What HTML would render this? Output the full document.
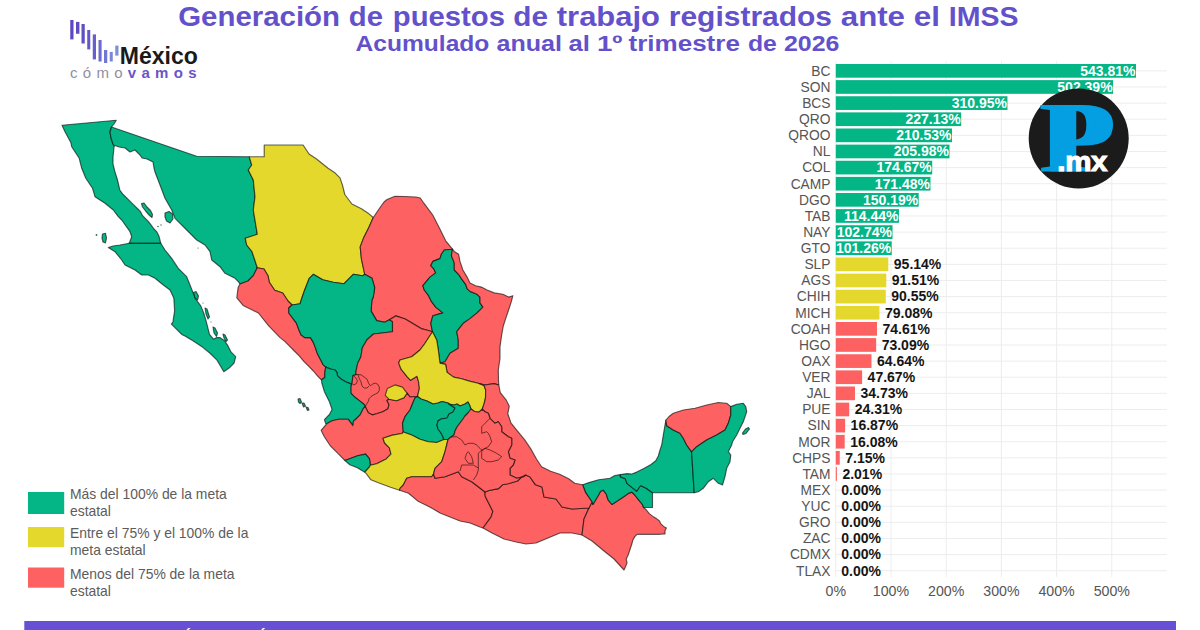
<!DOCTYPE html>
<html><head><meta charset="utf-8">
<style>
html,body{margin:0;padding:0;background:#fff;}
body{width:1200px;height:630px;overflow:hidden;position:relative;font-family:"Liberation Sans",Arial,sans-serif;}
svg{position:absolute;left:0;top:0;}
.lab{font:13.8px "Liberation Sans",sans-serif;fill:#555;}
.vin{font:bold 14px "Liberation Sans",sans-serif;fill:#fff;}
.vout{font:bold 14px "Liberation Sans",sans-serif;fill:#151515;}
.ax{font:14.2px "Liberation Sans",sans-serif;fill:#555;}
.leg{font:13.9px "Liberation Sans",sans-serif;fill:#5c5c5c;}
</style></head>
<body>
<svg width="1200" height="630" viewBox="0 0 1200 630">
<rect width="1200" height="630" fill="#fff"/>
<!-- title -->
<g style="font:bold 27px 'Liberation Sans',sans-serif;fill:#6351cb"><text x="178.2" y="26.4" textLength="161.8" lengthAdjust="spacingAndGlyphs">Generación</text><text x="348.8" y="26.4" textLength="34.2" lengthAdjust="spacingAndGlyphs">de</text><text x="392.8" y="26.4" textLength="112.2" lengthAdjust="spacingAndGlyphs">puestos</text><text x="513.3" y="26.4" textLength="34.7" lengthAdjust="spacingAndGlyphs">de</text><text x="556.8" y="26.4" textLength="103.2" lengthAdjust="spacingAndGlyphs">trabajo</text><text x="668.8" y="26.4" textLength="163.2" lengthAdjust="spacingAndGlyphs">registrados</text><text x="840.8" y="26.4" textLength="64.2" lengthAdjust="spacingAndGlyphs">ante</text><text x="913.8" y="26.4" textLength="26.2" lengthAdjust="spacingAndGlyphs">el</text><text x="948.8" y="26.4" textLength="69.7" lengthAdjust="spacingAndGlyphs">IMSS</text></g>
<g style="font:bold 22.3px 'Liberation Sans',sans-serif;fill:#6351cb"><text x="355.5" y="50.5" textLength="133.9" lengthAdjust="spacingAndGlyphs">Acumulado</text><text x="496.5" y="50.5" textLength="65.4" lengthAdjust="spacingAndGlyphs">anual</text><text x="568.5" y="50.5" textLength="21.4" lengthAdjust="spacingAndGlyphs">al</text><text x="597.0" y="50.5" textLength="25.4" lengthAdjust="spacingAndGlyphs">1º</text><text x="628.5" y="50.5" textLength="111.4" lengthAdjust="spacingAndGlyphs">trimestre</text><text x="748.0" y="50.5" textLength="28.9" lengthAdjust="spacingAndGlyphs">de</text><text x="784.0" y="50.5" textLength="55.4" lengthAdjust="spacingAndGlyphs">2026</text></g>
<!-- logo -->
<rect x="70.25" y="20" width="3.25" height="19.40" fill="#5b48c2"/>
<rect x="76" y="21.9" width="3.40" height="11.85" fill="#5d4cc4"/>
<rect x="81.5" y="24" width="3.25" height="19.50" fill="#5f50c6"/>
<rect x="87.25" y="30" width="3.00" height="19.40" fill="#6256c8"/>
<rect x="92.75" y="34.4" width="3.25" height="25.00" fill="#675fcc"/>
<rect x="98.5" y="40" width="3.10" height="21.50" fill="#6b6ad0"/>
<rect x="104" y="50" width="3.25" height="13.00" fill="#7277d4"/>
<rect x="109.75" y="51.9" width="3.00" height="9.60" fill="#7a86d8"/>
<rect x="115.25" y="45.6" width="3.25" height="10.00" fill="#7f8fda"/>
<text x="119.8" y="63.75" transform="translate(119.8 0) scale(0.945 1) translate(-119.8 0)" style="font:bold 24.4px 'Liberation Sans',sans-serif;fill:#1a1a1a">México</text>
<text x="70" y="77.6" textLength="126.5" lengthAdjust="spacing" style="font:15px 'Liberation Sans',sans-serif"><tspan fill="#9090a0">cómo</tspan><tspan fill="#6a55c8" font-weight="bold">vamos</tspan></text>
<!-- chart -->
<rect x="835.30" y="61" width="1" height="516" fill="#ededed"/>
<rect x="890.50" y="61" width="1" height="516" fill="#ededed"/>
<rect x="945.70" y="61" width="1" height="516" fill="#ededed"/>
<rect x="1000.90" y="61" width="1" height="516" fill="#ededed"/>
<rect x="1056.10" y="61" width="1" height="516" fill="#ededed"/>
<rect x="1111.30" y="61" width="1" height="516" fill="#ededed"/>
<rect x="835.80" y="70.35" width="331" height="1" fill="#ededed"/>
<rect x="835.80" y="86.47" width="331" height="1" fill="#ededed"/>
<rect x="835.80" y="102.60" width="331" height="1" fill="#ededed"/>
<rect x="835.80" y="118.72" width="331" height="1" fill="#ededed"/>
<rect x="835.80" y="134.85" width="331" height="1" fill="#ededed"/>
<rect x="835.80" y="150.97" width="331" height="1" fill="#ededed"/>
<rect x="835.80" y="167.10" width="331" height="1" fill="#ededed"/>
<rect x="835.80" y="183.22" width="331" height="1" fill="#ededed"/>
<rect x="835.80" y="199.35" width="331" height="1" fill="#ededed"/>
<rect x="835.80" y="215.47" width="331" height="1" fill="#ededed"/>
<rect x="835.80" y="231.60" width="331" height="1" fill="#ededed"/>
<rect x="835.80" y="247.72" width="331" height="1" fill="#ededed"/>
<rect x="835.80" y="263.85" width="331" height="1" fill="#ededed"/>
<rect x="835.80" y="279.98" width="331" height="1" fill="#ededed"/>
<rect x="835.80" y="296.10" width="331" height="1" fill="#ededed"/>
<rect x="835.80" y="312.23" width="331" height="1" fill="#ededed"/>
<rect x="835.80" y="328.35" width="331" height="1" fill="#ededed"/>
<rect x="835.80" y="344.48" width="331" height="1" fill="#ededed"/>
<rect x="835.80" y="360.60" width="331" height="1" fill="#ededed"/>
<rect x="835.80" y="376.73" width="331" height="1" fill="#ededed"/>
<rect x="835.80" y="392.85" width="331" height="1" fill="#ededed"/>
<rect x="835.80" y="408.98" width="331" height="1" fill="#ededed"/>
<rect x="835.80" y="425.10" width="331" height="1" fill="#ededed"/>
<rect x="835.80" y="441.23" width="331" height="1" fill="#ededed"/>
<rect x="835.80" y="457.35" width="331" height="1" fill="#ededed"/>
<rect x="835.80" y="473.48" width="331" height="1" fill="#ededed"/>
<rect x="835.80" y="489.60" width="331" height="1" fill="#ededed"/>
<rect x="835.80" y="505.73" width="331" height="1" fill="#ededed"/>
<rect x="835.80" y="521.85" width="331" height="1" fill="#ededed"/>
<rect x="835.80" y="537.98" width="331" height="1" fill="#ededed"/>
<rect x="835.80" y="554.10" width="331" height="1" fill="#ededed"/>
<rect x="835.80" y="570.23" width="331" height="1" fill="#ededed"/>
<rect x="835.80" y="64.00" width="300.18" height="13.7" fill="#04b586"/>
<text x="830.5" y="75.70" text-anchor="end" class="lab">BC</text>
<text x="1135.48" y="75.70" text-anchor="end" class="vin">543.81%</text>
<rect x="835.80" y="80.12" width="277.32" height="13.7" fill="#04b586"/>
<text x="830.5" y="91.82" text-anchor="end" class="lab">SON</text>
<text x="1112.62" y="91.82" text-anchor="end" class="vin">502.39%</text>
<rect x="835.80" y="96.25" width="171.64" height="13.7" fill="#04b586"/>
<text x="830.5" y="107.95" text-anchor="end" class="lab">BCS</text>
<text x="1006.94" y="107.95" text-anchor="end" class="vin">310.95%</text>
<rect x="835.80" y="112.38" width="125.38" height="13.7" fill="#04b586"/>
<text x="830.5" y="124.07" text-anchor="end" class="lab">QRO</text>
<text x="960.68" y="124.07" text-anchor="end" class="vin">227.13%</text>
<rect x="835.80" y="128.50" width="116.21" height="13.7" fill="#04b586"/>
<text x="830.5" y="140.20" text-anchor="end" class="lab">QROO</text>
<text x="951.51" y="140.20" text-anchor="end" class="vin">210.53%</text>
<rect x="835.80" y="144.62" width="113.70" height="13.7" fill="#04b586"/>
<text x="830.5" y="156.32" text-anchor="end" class="lab">NL</text>
<text x="949.00" y="156.32" text-anchor="end" class="vin">205.98%</text>
<rect x="835.80" y="160.75" width="96.42" height="13.7" fill="#04b586"/>
<text x="830.5" y="172.45" text-anchor="end" class="lab">COL</text>
<text x="931.72" y="172.45" text-anchor="end" class="vin">174.67%</text>
<rect x="835.80" y="176.88" width="94.66" height="13.7" fill="#04b586"/>
<text x="830.5" y="188.57" text-anchor="end" class="lab">CAMP</text>
<text x="929.96" y="188.57" text-anchor="end" class="vin">171.48%</text>
<rect x="835.80" y="193.00" width="82.90" height="13.7" fill="#04b586"/>
<text x="830.5" y="204.70" text-anchor="end" class="lab">DGO</text>
<text x="918.20" y="204.70" text-anchor="end" class="vin">150.19%</text>
<rect x="835.80" y="209.12" width="63.17" height="13.7" fill="#04b586"/>
<text x="830.5" y="220.82" text-anchor="end" class="lab">TAB</text>
<text x="898.47" y="220.82" text-anchor="end" class="vin">114.44%</text>
<rect x="835.80" y="225.25" width="56.71" height="13.7" fill="#04b586"/>
<text x="830.5" y="236.95" text-anchor="end" class="lab">NAY</text>
<text x="892.01" y="236.95" text-anchor="end" class="vin">102.74%</text>
<rect x="835.80" y="241.38" width="55.90" height="13.7" fill="#04b586"/>
<text x="830.5" y="253.07" text-anchor="end" class="lab">GTO</text>
<text x="891.20" y="253.07" text-anchor="end" class="vin">101.26%</text>
<rect x="835.80" y="257.50" width="52.52" height="13.7" fill="#e4d82c"/>
<text x="830.5" y="269.20" text-anchor="end" class="lab">SLP</text>
<text x="893.82" y="269.20" class="vout">95.14%</text>
<rect x="835.80" y="273.62" width="50.51" height="13.7" fill="#e4d82c"/>
<text x="830.5" y="285.33" text-anchor="end" class="lab">AGS</text>
<text x="891.81" y="285.33" class="vout">91.51%</text>
<rect x="835.80" y="289.75" width="49.98" height="13.7" fill="#e4d82c"/>
<text x="830.5" y="301.45" text-anchor="end" class="lab">CHIH</text>
<text x="891.28" y="301.45" class="vout">90.55%</text>
<rect x="835.80" y="305.88" width="43.65" height="13.7" fill="#e4d82c"/>
<text x="830.5" y="317.58" text-anchor="end" class="lab">MICH</text>
<text x="884.95" y="317.58" class="vout">79.08%</text>
<rect x="835.80" y="322.00" width="41.18" height="13.7" fill="#fd6161"/>
<text x="830.5" y="333.70" text-anchor="end" class="lab">COAH</text>
<text x="882.48" y="333.70" class="vout">74.61%</text>
<rect x="835.80" y="338.12" width="40.35" height="13.7" fill="#fd6161"/>
<text x="830.5" y="349.83" text-anchor="end" class="lab">HGO</text>
<text x="881.65" y="349.83" class="vout">73.09%</text>
<rect x="835.80" y="354.25" width="35.68" height="13.7" fill="#fd6161"/>
<text x="830.5" y="365.95" text-anchor="end" class="lab">OAX</text>
<text x="876.98" y="365.95" class="vout">64.64%</text>
<rect x="835.80" y="370.38" width="26.31" height="13.7" fill="#fd6161"/>
<text x="830.5" y="382.08" text-anchor="end" class="lab">VER</text>
<text x="867.61" y="382.08" class="vout">47.67%</text>
<rect x="835.80" y="386.50" width="19.17" height="13.7" fill="#fd6161"/>
<text x="830.5" y="398.20" text-anchor="end" class="lab">JAL</text>
<text x="860.47" y="398.20" class="vout">34.73%</text>
<rect x="835.80" y="402.62" width="13.42" height="13.7" fill="#fd6161"/>
<text x="830.5" y="414.33" text-anchor="end" class="lab">PUE</text>
<text x="854.72" y="414.33" class="vout">24.31%</text>
<rect x="835.80" y="418.75" width="9.31" height="13.7" fill="#fd6161"/>
<text x="830.5" y="430.45" text-anchor="end" class="lab">SIN</text>
<text x="850.61" y="430.45" class="vout">16.87%</text>
<rect x="835.80" y="434.88" width="8.88" height="13.7" fill="#fd6161"/>
<text x="830.5" y="446.58" text-anchor="end" class="lab">MOR</text>
<text x="850.18" y="446.58" class="vout">16.08%</text>
<rect x="835.80" y="451.00" width="3.95" height="13.7" fill="#fd6161"/>
<text x="830.5" y="462.70" text-anchor="end" class="lab">CHPS</text>
<text x="845.25" y="462.70" class="vout">7.15%</text>
<rect x="835.80" y="467.12" width="1.11" height="13.7" fill="#fd6161"/>
<text x="830.5" y="478.83" text-anchor="end" class="lab">TAM</text>
<text x="842.41" y="478.83" class="vout">2.01%</text>
<text x="830.5" y="494.95" text-anchor="end" class="lab">MEX</text>
<text x="841.30" y="494.95" class="vout">0.00%</text>
<text x="830.5" y="511.08" text-anchor="end" class="lab">YUC</text>
<text x="841.30" y="511.08" class="vout">0.00%</text>
<text x="830.5" y="527.20" text-anchor="end" class="lab">GRO</text>
<text x="841.30" y="527.20" class="vout">0.00%</text>
<text x="830.5" y="543.33" text-anchor="end" class="lab">ZAC</text>
<text x="841.30" y="543.33" class="vout">0.00%</text>
<text x="830.5" y="559.45" text-anchor="end" class="lab">CDMX</text>
<text x="841.30" y="559.45" class="vout">0.00%</text>
<text x="830.5" y="575.58" text-anchor="end" class="lab">TLAX</text>
<text x="841.30" y="575.58" class="vout">0.00%</text>
<text x="835.80" y="596.3" text-anchor="middle" class="ax">0%</text>
<text x="891.00" y="596.3" text-anchor="middle" class="ax">100%</text>
<text x="946.20" y="596.3" text-anchor="middle" class="ax">200%</text>
<text x="1001.40" y="596.3" text-anchor="middle" class="ax">300%</text>
<text x="1056.60" y="596.3" text-anchor="middle" class="ax">400%</text>
<text x="1111.80" y="596.3" text-anchor="middle" class="ax">500%</text>
<!-- P.mx logo -->
<circle cx="1078.7" cy="138.5" r="50" fill="#1b1b1b"/>
<g transform="translate(1038.6 172.3) scale(1.116 1)" style="font:bold 100.8px 'Liberation Serif',serif;fill:#049ee2"><text x="0" y="0">P</text><text x="7.93" y="0" aria-hidden="true">P</text></g>
<text x="1057.3" y="171.3" transform="translate(1057.3 0) scale(1.075 1) translate(-1057.3 0)" style="font:bold 27.5px 'Liberation Sans',sans-serif;fill:#fff;stroke:#fff;stroke-width:1.1;letter-spacing:-0.3px">.mx</text>
<!-- map -->
<g stroke="#000" stroke-width="1.15" stroke-linejoin="round" stroke-opacity="0.6">
<polygon points="62.0,125.3 116.3,120.3 114.0,124.0 111.5,127.0 110.0,132.0 111.0,138.0 113.0,144.0 114.2,145.8 113.0,157.0 113.0,164.0 115.0,172.0 117.5,180.0 119.8,190.0 122.6,193.8 126.4,197.6 130.2,201.4 134.0,205.2 137.9,209.0 140.7,211.9 142.6,215.7 145.5,218.6 148.3,221.4 151.2,225.2 154.0,229.0 156.9,231.9 158.8,235.7 159.8,239.5 160.8,243.3 129.2,243.3 131.7,236.7 130.0,231.7 121.7,220.0 118.3,216.7 113.3,210.0 105.0,203.3 95.0,196.7 92.5,188.3 85.8,178.3 81.7,168.3 79.2,158.3 71.7,146.7 70.8,142.5 65.0,131.7" fill="#04b586"/>
<polygon points="160.8,243.3 165.0,250.0 171.7,258.3 178.3,268.3 186.7,276.7 190.0,285.0 193.3,293.3 196.0,299.5 200.8,305.9 204.0,313.8 206.3,321.7 207.9,328.1 209.5,334.4 213.5,339.2 216.7,337.6 219.8,337.6 224.6,340.8 227.8,345.6 231.0,351.9 235.7,356.7 234.1,363.0 229.4,367.8 223.8,371.7 220.6,366.2 216.7,359.8 210.3,353.5 202.4,347.1 192.9,340.8 184.9,336.0 181.7,334.4 175.4,328.1 171.4,324.1 173.0,321.7 174.6,310.6 173.8,297.9 170.0,290.0 163.3,285.0 155.0,278.3 148.3,275.0 141.7,275.0 135.0,270.0 125.0,265.0 121.7,260.0 115.0,251.7 108.3,247.5 113.0,246.0 120.0,245.0 129.2,243.3" fill="#04b586"/>
<polygon points="111.5,127.0 196.7,156.3 249.2,156.7 251.7,165.0 248.3,170.0 253.3,180.0 255.0,196.7 253.3,210.0 255.8,225.0 257.3,234.3 245.3,238.3 246.7,245.0 252.0,251.7 254.7,259.7 257.3,267.7 253.3,275.7 248.0,281.0 240.0,284.0 238.3,281.7 235.0,278.3 225.0,273.3 220.0,266.7 211.7,260.0 210.0,251.7 205.0,245.0 196.7,240.0 186.7,230.0 175.0,218.3 171.7,210.0 165.0,198.3 160.0,185.0 155.0,172.0 154.0,168.0 153.0,162.0 147.0,159.0 142.0,158.0 140.0,155.0 135.0,150.0 130.0,152.0 125.0,148.0 119.0,147.0 115.0,145.5 114.2,145.8 113.0,144.0 111.0,138.0 110.0,132.0" fill="#04b586"/>
<polygon points="249.2,156.7 264.2,156.7 264.2,145.0 303.1,145.0 309.0,154.0 316.2,158.8 328.1,168.3 335.2,173.1 340.0,177.9 342.4,185.0 344.8,194.5 351.9,204.0 361.4,208.8 368.6,213.6 373.3,217.5 368.6,227.9 363.8,237.4 360.2,246.9 361.4,258.8 363.8,270.0 364.7,274.3 362.7,275.7 353.3,274.3 349.3,278.3 344.0,283.7 333.3,282.3 322.7,279.7 313.3,274.3 309.3,278.3 304.0,291.7 300.0,303.7 292.0,305.0 288.0,301.0 282.7,293.0 274.7,290.3 269.3,282.3 268.0,275.7 264.0,269.0 257.3,267.7 254.7,259.7 252.0,251.7 246.7,245.0 245.3,238.3 257.3,234.3 255.8,225.0 253.3,210.0 255.0,196.7 253.3,180.0 248.3,170.0 251.7,165.0" fill="#e4d82c"/>
<polygon points="373.3,217.5 379.0,209.0 384.0,202.0 387.0,199.5 395.0,196.3 405.0,196.5 416.0,197.0 420.3,198.0 423.5,202.7 433.0,215.4 439.4,228.0 445.7,240.8 452.5,249.2 444.3,250.0 441.4,254.3 440.0,258.6 432.9,261.4 430.7,265.7 433.6,268.6 435.7,272.9 430.0,277.1 422.9,285.7 424.3,290.0 428.6,295.7 431.4,301.4 435.7,307.1 442.9,312.9 432.9,315.7 430.8,323.3 432.5,331.7 427.5,330.2 421.1,328.6 413.2,323.8 405.2,319.0 395.7,315.9 389.4,319.8 384.6,322.2 376.7,320.6 371.1,311.1 371.9,300.0 373.3,297.0 374.7,287.7 372.0,278.3 364.7,274.3 363.8,270.0 361.4,258.8 360.2,246.9 363.8,237.4 368.6,227.9" fill="#fd6161"/>
<polygon points="452.5,249.2 451.4,255.7 454.3,262.9 454.3,270.0 458.6,274.3 461.4,278.6 465.7,284.3 467.1,288.6 470.0,291.4 477.1,294.3 480.0,297.1 480.0,302.9 482.9,307.1 477.1,312.9 470.0,318.6 463.3,323.3 456.7,331.7 458.3,340.0 458.3,348.3 450.0,353.3 445.0,361.7 440.0,363.3 438.3,350.0 436.7,340.0 432.5,331.7 430.8,323.3 432.9,315.7 442.9,312.9 435.7,307.1 431.4,301.4 428.6,295.7 424.3,290.0 422.9,285.7 430.0,277.1 435.7,272.9 433.6,268.6 430.7,265.7 432.9,261.4 440.0,258.6 441.4,254.3 444.3,250.0" fill="#04b586"/>
<polygon points="452.5,249.2 454.3,251.4 458.6,254.3 460.0,261.4 462.9,270.0 467.1,277.1 470.0,282.9 475.7,285.7 481.4,287.1 487.1,290.0 494.3,292.9 502.9,294.3 508.6,297.1 512.9,295.7 511.4,301.4 508.6,310.0 505.7,318.6 503.3,326.0 501.7,335.0 500.0,346.7 500.0,358.3 498.3,370.0 498.5,380.0 498.8,385.0 494.0,383.6 485.0,385.0 479.0,383.5 469.4,381.1 461.4,378.7 453.5,377.1 447.1,372.4 445.6,364.4 440.0,363.3 445.0,361.7 450.0,353.3 458.3,348.3 458.3,340.0 456.7,331.7 463.3,323.3 470.0,318.6 477.1,312.9 482.9,307.1 480.0,302.9 480.0,297.1 477.1,294.3 470.0,291.4 467.1,288.6 465.7,284.3 461.4,278.6 458.6,274.3 454.3,270.0 454.3,262.9 451.4,255.7" fill="#fd6161"/>
<polygon points="257.3,267.7 264.0,269.0 268.0,275.7 269.3,282.3 274.7,290.3 282.7,293.0 288.0,301.0 292.0,305.0 288.8,308.0 288.8,313.0 296.4,323.1 299.0,330.0 301.0,334.8 304.8,337.6 310.5,337.6 313.3,342.4 315.2,347.1 317.1,352.9 319.0,356.7 321.0,360.5 322.9,364.3 325.7,367.1 324.8,372.9 324.8,377.6 321.9,379.5 321.5,380.0 318.1,376.7 313.3,371.0 308.6,366.2 303.8,361.4 299.0,355.7 294.3,351.0 289.5,346.2 284.8,341.4 280.0,337.6 268.5,325.7 258.4,313.0 243.1,305.4 236.8,297.8 238.1,287.6 240.0,284.0 248.0,281.0 253.3,275.7" fill="#fd6161"/>
<polygon points="364.7,274.3 372.0,278.3 374.7,287.7 373.3,297.0 371.9,300.0 371.1,311.1 376.7,320.6 384.6,322.2 389.4,319.8 392.5,321.5 392.5,331.7 373.5,334.0 367.0,339.7 362.4,347.6 360.8,357.0 357.6,363.5 356.0,371.4 356.0,374.6 352.9,375.6 352.0,384.0 350.8,383.9 345.6,381.8 340.5,378.7 337.4,375.6 337.1,372.9 335.2,370.0 330.5,369.0 325.7,367.1 322.9,364.3 321.0,360.5 319.0,356.7 317.1,352.9 315.2,347.1 313.3,342.4 310.5,337.6 304.8,337.6 301.0,334.8 299.0,330.0 296.4,323.1 288.8,313.0 288.8,308.0 292.0,305.0 300.0,303.7 304.0,291.7 309.3,278.3 313.3,274.3 322.7,279.7 333.3,282.3 344.0,283.7 349.3,278.3 353.3,274.3 362.7,275.7" fill="#04b586"/>
<polygon points="389.4,319.8 395.7,315.9 405.2,319.0 413.2,323.8 421.1,328.6 427.5,330.2 432.5,331.7 425.0,343.3 420.0,350.0 411.7,356.7 400.0,360.0 398.7,362.9 401.1,369.2 407.5,377.1 410.6,380.3 417.0,376.3 418.6,381.9 419.4,388.3 417.5,396.5 410.0,397.0 407.0,393.2 404.0,397.7 396.5,400.7 389.0,399.2 386.9,400.4 389.0,404.5 388.0,408.7 382.8,411.8 376.6,413.8 372.5,414.9 368.3,412.8 365.2,406.6 364.2,404.5 359.0,400.4 354.9,397.3 350.8,393.2 350.8,386.0 352.0,384.0 352.9,375.6 356.0,374.6 356.0,371.4 357.6,363.5 360.8,357.0 362.4,347.6 367.0,339.7 373.5,334.0 392.5,331.7 392.5,321.5" fill="#fd6161"/>
<polygon points="325.7,367.1 330.5,369.0 335.2,370.0 337.1,372.9 337.4,375.6 340.5,378.7 345.6,381.8 350.8,383.9 352.0,384.0 350.8,386.0 350.8,393.2 354.9,397.3 359.0,400.4 364.2,404.5 365.2,406.6 363.2,408.7 360.1,414.9 355.5,419.5 353.5,421.0 352.9,425.6 348.1,419.2 338.6,419.2 332.2,420.8 327.0,423.5 325.6,423.4 324.4,419.6 329.4,414.5 332.0,409.4 329.4,401.8 324.4,391.7 321.8,383.0 321.5,380.0 321.9,379.5 324.8,377.6 324.8,372.9" fill="#04b586"/>
<polygon points="327.0,423.5 321.1,430.3 324.3,436.7 330.6,446.2 338.6,454.1 344.9,460.5 357.6,455.7 365.6,454.1 369.5,458.9 370.3,465.2 376.7,463.7 386.2,458.9 391.0,454.1 389.4,447.8 384.6,443.0 383.0,438.3 392.5,435.1 402.0,433.5 403.3,432.0 402.5,423.3 405.0,416.7 410.0,410.0 413.3,401.7 415.0,398.0 417.5,396.5 410.0,397.0 407.0,393.2 404.0,397.7 396.5,400.7 389.0,399.2 386.9,400.4 389.0,404.5 388.0,408.7 382.8,411.8 376.6,413.8 372.5,414.9 368.3,412.8 365.2,406.6 363.2,408.7 360.1,414.9 355.5,419.5 353.5,421.0 352.9,425.6 348.1,419.2 338.6,419.2 332.2,420.8" fill="#fd6161"/>
<polygon points="344.9,460.5 357.6,455.7 365.6,454.1 369.5,458.9 370.3,465.2 369.4,467.0 364.8,472.2 357.3,467.7 349.8,464.7" fill="#04b586"/>
<polygon points="387.4,388.6 395.0,384.9 402.5,387.1 407.0,393.2 404.0,397.7 396.5,400.7 389.0,399.2 385.2,395.4" fill="#e4d82c"/>
<polygon points="432.5,331.7 436.7,340.0 438.3,350.0 440.0,363.3 445.6,364.4 447.1,372.4 453.5,377.1 461.4,378.7 469.4,381.1 479.0,383.5 484.0,385.5 485.7,390.0 485.5,398.0 484.0,404.0 482.2,409.2 478.9,412.1 474.5,411.5 471.0,409.0 469.5,405.0 468.0,402.0 465.0,404.0 460.0,406.0 457.0,404.0 454.0,405.0 449.0,404.0 448.0,403.0 442.0,401.5 438.0,403.0 433.0,404.0 427.0,401.0 421.0,399.0 417.5,396.5 419.4,388.3 418.6,381.9 417.0,376.3 410.6,380.3 407.5,377.1 401.1,369.2 398.7,362.9 400.0,360.0 411.7,356.7 420.0,350.0 425.0,343.3" fill="#e4d82c"/>
<polygon points="417.5,396.5 421.0,399.0 427.0,401.0 433.0,404.0 438.0,403.0 442.0,401.5 448.0,403.0 449.0,404.0 455.0,408.0 453.0,412.0 449.0,414.0 447.0,418.0 441.0,419.0 438.0,421.0 437.0,425.0 438.0,429.0 441.0,433.0 443.0,437.0 444.0,439.5 436.7,442.5 428.3,441.7 420.0,439.2 411.7,435.0 403.3,432.0 402.5,423.3 405.0,416.7 410.0,410.0 413.3,401.7 415.0,398.0" fill="#04b586"/>
<polygon points="449.0,404.0 454.0,405.0 457.0,404.0 460.0,406.0 465.0,404.0 468.0,402.0 469.5,405.0 471.0,409.0 468.0,413.0 465.0,416.0 463.0,419.0 460.0,423.0 457.0,427.0 455.0,431.0 454.0,435.0 451.0,437.0 448.0,439.5 444.0,439.5 443.0,437.0 441.0,433.0 438.0,429.0 437.0,425.0 438.0,421.0 441.0,419.0 447.0,418.0 449.0,414.0 453.0,412.0 455.0,408.0" fill="#04b586"/>
<polygon points="370.3,465.2 376.7,463.7 386.2,458.9 391.0,454.1 389.4,447.8 384.6,443.0 383.0,438.3 392.5,435.1 402.0,433.5 403.3,432.0 411.7,435.0 420.0,439.2 428.3,441.7 436.7,442.5 444.0,439.5 448.0,439.5 446.7,445.0 445.0,451.7 441.7,461.7 435.0,468.3 433.5,474.0 431.7,476.7 421.7,476.7 411.7,476.7 406.7,478.3 403.3,485.0 400.0,488.3 399.5,490.3 390.5,487.3 378.4,482.8 370.9,479.8 366.3,473.7 364.8,472.2 369.4,467.0" fill="#e4d82c"/>
<polygon points="399.5,490.3 408.5,493.3 417.6,500.9 429.7,506.9 440.0,513.0 450.0,517.0 460.0,521.0 470.0,523.0 480.0,527.0 483.0,528.0 491.0,517.1 492.9,511.4 489.0,503.8 485.2,496.2 485.0,492.0 478.3,486.7 471.7,481.7 461.7,476.7 458.3,471.7 445.0,476.7 435.0,478.3 433.5,474.0 431.7,476.7 421.7,476.7 411.7,476.7 406.7,478.3 403.3,485.0 400.0,488.3" fill="#fd6161"/>
<polygon points="485.0,492.0 489.0,490.5 498.6,488.6 502.4,484.8 508.1,483.8 517.6,481.0 521.4,477.1 525.7,475.0 530.0,477.0 535.5,484.8 542.0,487.0 544.0,497.0 556.0,499.0 562.0,507.0 572.0,509.0 589.0,508.0 584.0,519.0 582.0,535.0 572.0,533.0 560.0,533.0 548.0,538.0 536.0,543.0 526.0,544.0 516.0,542.0 504.0,539.0 492.0,533.0 483.0,528.0 491.0,517.1 492.9,511.4 489.0,503.8 485.2,496.2" fill="#fd6161"/>
<polygon points="582.0,535.0 584.0,519.0 589.0,508.0 592.0,502.0 592.9,504.5 598.6,495.0 600.5,491.2 603.3,490.2 606.2,494.0 608.1,499.8 611.9,504.5 617.6,500.7 623.3,496.9 629.0,493.1 631.9,492.1 634.8,495.0 638.6,499.8 642.4,504.5 643.6,507.5 646.4,510.0 649.3,513.6 652.9,516.4 656.4,518.6 659.3,520.7 660.7,523.6 663.6,526.4 666.4,527.9 665.0,530.7 665.0,533.9 660.0,534.3 651.4,534.3 637.1,534.3 635.0,536.4 632.9,540.0 631.9,543.8 628.1,555.2 626.2,559.0 627.1,562.9 624.3,569.5 624.0,570.0 614.0,559.0 604.0,551.0 592.0,541.0" fill="#fd6161"/>
<polygon points="582.6,484.8 589.0,482.6 598.6,479.8 610.0,478.3 614.8,475.5 620.3,474.6 620.5,476.9 625.2,478.8 627.1,483.6 631.9,487.4 636.7,491.2 640.5,485.5 646.2,488.3 652.5,492.7 652.5,507.5 643.6,507.5 642.4,504.5 638.6,499.8 634.8,495.0 631.9,492.1 629.0,493.1 623.3,496.9 617.6,500.7 611.9,504.5 608.1,499.8 606.2,494.0 603.3,490.2 600.5,491.2 598.6,495.0 592.9,504.5 592.0,502.0 585.6,492.7" fill="#04b586"/>
<polygon points="620.3,474.6 627.1,473.6 631.9,474.0 636.7,472.1 644.3,468.3 651.0,464.5 655.7,460.7 658.3,456.0 660.0,450.0 661.7,445.0 663.3,435.0 665.0,425.0 665.9,420.2 666.7,425.8 673.3,430.0 680.0,433.3 683.3,438.3 686.7,445.0 691.6,451.8 694.2,492.7 652.5,492.7 646.2,488.3 640.5,485.5 636.7,491.2 631.9,487.4 627.1,483.6 625.2,478.8 620.5,476.9" fill="#04b586"/>
<polygon points="665.9,420.2 669.0,416.5 673.3,413.3 683.3,410.0 695.0,408.3 706.7,405.0 718.3,402.5 726.7,403.3 730.8,406.6 730.8,415.0 728.3,423.3 725.0,430.0 716.7,435.0 706.7,440.0 696.7,446.7 691.6,451.8 686.7,445.0 683.3,438.3 680.0,433.3 673.3,430.0 666.7,425.8" fill="#fd6161"/>
<polygon points="730.8,406.6 736.7,404.2 743.3,403.3 745.8,406.7 746.7,411.7 743.3,421.7 740.0,428.3 736.7,435.0 732.5,441.7 731.7,445.0 728.3,451.7 730.8,455.0 730.0,461.7 726.7,468.3 725.0,476.7 722.5,485.0 718.3,483.3 713.3,478.3 708.3,481.7 703.3,488.3 698.3,491.7 694.2,492.7 691.6,451.8 696.7,446.7 706.7,440.0 716.7,435.0 725.0,430.0 728.3,423.3 730.8,415.0" fill="#04b586"/>
<polygon points="479.0,383.5 485.0,385.0 494.0,383.6 498.8,385.0 500.3,392.6 506.3,400.2 509.3,406.2 507.8,413.7 510.9,422.8 516.9,430.3 524.4,439.4 530.5,448.4 536.5,459.0 541.6,466.7 550.6,471.3 559.7,474.3 568.7,478.8 574.7,483.3 582.6,484.8 585.6,492.7 592.0,502.0 589.0,508.0 572.0,509.0 562.0,507.0 556.0,499.0 544.0,497.0 542.0,487.0 535.5,484.8 530.0,477.0 525.7,475.0 523.3,476.7 516.7,478.3 510.0,475.0 510.0,468.3 513.3,465.0 515.0,460.0 510.0,458.3 508.3,451.7 511.7,445.0 511.7,438.3 508.3,436.7 501.7,431.7 501.7,426.7 498.3,421.7 495.0,423.3 490.0,418.3 488.3,413.3 485.0,411.7 482.2,409.2 484.0,404.0 485.5,398.0 485.7,390.0 484.0,385.5" fill="#fd6161"/>
<polygon points="471.0,409.0 474.5,411.5 478.9,412.1 482.2,409.2 485.0,411.7 488.3,413.3 490.0,418.3 495.0,423.3 498.3,421.7 501.7,426.7 501.7,431.7 508.3,436.7 511.7,438.3 511.7,445.0 508.3,451.7 510.0,458.3 515.0,460.0 513.3,465.0 510.0,468.3 510.0,475.0 516.7,478.3 523.3,476.7 525.7,475.0 521.4,477.1 517.6,481.0 508.1,483.8 502.4,484.8 498.6,488.6 489.0,490.5 485.0,492.0 478.3,486.7 471.7,481.7 461.7,476.7 458.3,471.7 445.0,476.7 435.0,478.3 433.5,474.0 435.0,468.3 441.7,461.7 445.0,451.7 446.7,445.0 448.0,439.5 451.0,437.0 454.0,435.0 455.0,431.0 457.0,427.0 460.0,423.0 463.0,419.0 465.0,416.0 468.0,413.0" fill="#fd6161"/>
<polygon points="141.5,203.5 144.0,203.0 147.0,207.0 150.5,210.5 152.5,214.5 152.0,217.5 149.5,215.5 146.0,211.5 142.5,207.0" fill="#04b586"/>
<polygon points="165.0,213.0 169.0,211.5 172.5,214.0 173.0,219.0 170.0,223.0 166.5,221.0 165.0,217.0" fill="#04b586"/>
<polygon points="748.5,427.5 749.5,429.0 746.0,433.5 743.0,434.5 742.5,433.0 745.5,429.0" fill="#04b586"/>
<polygon points="193.5,292.5 196.0,291.5 198.5,296.0 197.5,300.0 195.0,298.0" fill="#04b586"/>
<polygon points="213.0,327.0 215.0,328.0 217.5,333.0 216.5,336.5 214.0,333.0" fill="#04b586"/>
<polygon points="223.0,334.0 225.0,335.0 227.5,340.0 226.0,341.5 224.0,338.0" fill="#04b586"/>
<polygon points="205.0,308.0 207.0,309.0 209.5,317.0 208.0,319.0 206.0,314.0" fill="#04b586"/>
<polygon points="298.0,399.0 300.0,398.5 301.5,402.0 300.0,403.5 298.5,402.0" fill="#04b586"/>
<polygon points="302.0,403.0 304.0,403.0 305.5,406.0 303.5,407.0" fill="#04b586"/>
<polygon points="306.0,407.0 308.0,407.5 309.0,410.0 307.5,410.5" fill="#04b586"/>
<polygon points="102.5,234.0 105.5,233.3 106.5,238.0 105.5,243.0 103.0,242.0 102.0,238.0" fill="#04b586"/>
</g>
<g fill="none" stroke="#000" stroke-width="1" stroke-opacity="0.55" stroke-linejoin="round">
<polyline points="356.0,374.6 358.0,374.5 361.5,375.0 364.0,376.9 367.2,379.4 368.5,383.2 370.4,385.8 372.9,383.9 375.5,383.2 378.0,384.5 379.3,387.0 379.3,390.2 378.0,392.7 375.5,394.0 372.9,395.3 371.0,396.6 369.1,398.5 368.5,401.0 366.6,404.2 365.2,406.6"/>
<polyline points="358.0,374.5 359.0,378.0 361.0,382.0 362.0,386.0 364.0,388.0 367.0,388.0 369.0,386.0"/>
<polyline points="353.2,375.6 356.0,378.0 357.5,381.0 356.0,384.0 353.0,385.0"/>
<polyline points="490.0,418.3 485.0,423.3 481.7,426.7 481.7,433.3 486.7,431.7 488.3,433.3 490.0,436.7 491.7,441.7 488.3,446.7 485.0,448.3 481.7,450.0"/>
<polyline points="481.7,450.0 481.7,451.0"/>
<polyline points="481.7,450.0 480.0,448.3 476.7,445.0 473.3,443.3 468.3,443.3 465.0,445.0 461.7,440.0 456.7,436.7 451.0,437.0"/>
<polyline points="481.7,450.0 478.3,453.3 478.3,461.7 478.3,470.0 476.7,475.0 473.3,480.0"/>
<polyline points="460.0,471.0 461.7,465.0 466.7,465.0 473.3,465.0 478.3,468.0"/>
<polyline points="466.7,453.3 468.3,451.7 471.7,456.7 473.3,463.3 468.3,463.3 465.0,458.3 466.7,453.3"/>
<polyline points="481.7,451.7 485.0,448.3 490.0,450.0 496.7,453.3 501.7,456.7 498.3,460.0 491.7,461.7 486.7,461.7 481.7,458.3 481.7,451.7"/>
</g>
<g fill="#2f6f55">
<circle cx="96.5" cy="235" r="0.9"/>
<circle cx="158" cy="226.5" r="0.8"/>
<circle cx="161" cy="225" r="0.7"/>
<circle cx="198" cy="248" r="0.6"/>
<circle cx="203" cy="303" r="0.6"/>
<circle cx="211" cy="322" r="0.6"/>
</g>
<!-- legend -->
<rect x="28" y="492" width="36.2" height="22" fill="#04b586"/>
<rect x="28" y="527" width="36.2" height="20.2" fill="#e4d82c"/>
<rect x="28" y="567.5" width="36.2" height="20.2" fill="#fd6161"/>
<text x="70" y="499.2" class="leg">Más del 100% de la meta</text>
<text x="70" y="515.6" class="leg">estatal</text>
<text x="70" y="538.3" class="leg">Entre el 75% y el 100% de la</text>
<text x="70" y="555.2" class="leg">meta estatal</text>
<text x="70" y="579" class="leg">Menos del 75% de la meta</text>
<text x="70" y="596" class="leg">estatal</text>
<!-- bottom bar -->
<rect x="24.3" y="621" width="1151.7" height="9" fill="#6850d4"/>
<text x="183" y="638.5" style="font:bold 15px 'Liberation Sans',sans-serif;fill:#fff">ó</text>
<text x="258" y="638.5" style="font:bold 15px 'Liberation Sans',sans-serif;fill:#fff">é</text>
</svg>
</body></html>
